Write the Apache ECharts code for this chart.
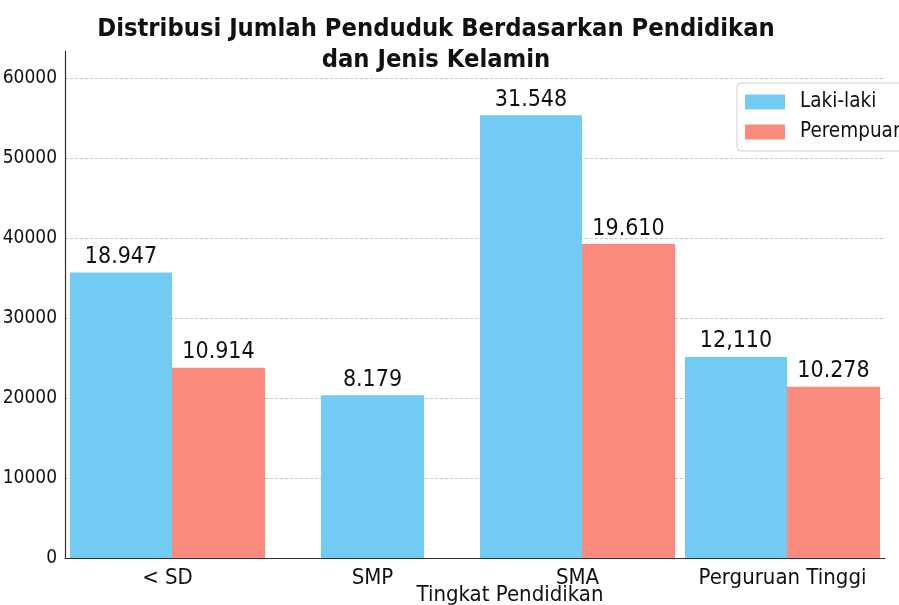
<!DOCTYPE html>
<html>
<head>
<meta charset="utf-8">
<title>Distribusi Jumlah Penduduk</title>
<script src="https://cdn.jsdelivr.net/npm/echarts@6/dist/echarts.min.js"></script>
<style>
	html, body { margin: 0; padding: 0; background: #fff; overflow: hidden; }
	#chart { position: absolute; left: 0; top: 0; width: 915px; height: 605px; }
</style>
</head>
<body>
<div id="chart"></div>
<script>
	// kategori dan nilai (dibaca dari skala sumbu gambar)
	var categories = ['< SD', 'SMP', 'SMA', 'Perguruan Tinggi'];
	var lakiValues = [35700, 20350, 55350, 25150];
	var perempuanValues = [23800, null, 39250, 21400];
	// angka yang tertulis di atas batang
	var lakiLabels = ['18.947', '8.179', '31.548', '12,110'];
	var perempuanLabels = ['10.914', '', '19.610', '10.278'];
	var yTicks = [0, 10000, 20000, 30000, 40000, 50000, 60000];

	var font = "'DejaVu Sans Condensed', 'DejaVu Sans', sans-serif";

	// SMP hanya punya satu batang -> taruh di sumbu x kedua supaya di tengah
	var lakiPaired = lakiValues.map(function (v, i) { return perempuanValues[i] == null ? null : v; });
	var lakiSingle = lakiValues.map(function (v, i) { return perempuanValues[i] == null ? v : null; });

	function drawBar(id) {
		var myChart = echarts.init(document.getElementById(id));

		var barLabel = function (texts) {
			return {
				show: true,
				position: 'top',
				distance: 4,
				color: '#111',
				fontFamily: font,
				fontSize: 23,
				formatter: function (p) { return texts[p.dataIndex]; }
			};
		};

		var option = {
			animation: false,
			title: {
				text: 'Distribusi Jumlah Penduduk Berdasarkan Pendidikan\ndan Jenis Kelamin',
				left: 431,
				top: 9,
				textAlign: 'center',
				textStyle: {
					color: '#111',
					fontFamily: font,
					fontWeight: 'bold',
					fontSize: 25.3,
					lineHeight: 31
				}
			},
			legend: {
				data: ['Laki-laki', 'Perempuan'],
				orient: 'vertical',
				left: 737,
				top: 83,
				padding: [8, 12, 8, 8],
				itemWidth: 40,
				itemHeight: 15,
				itemGap: 8,
				icon: 'rect',
				borderColor: '#cccccc',
				borderWidth: 1,
				borderRadius: 4,
				backgroundColor: 'rgba(255,255,255,0.85)',
				textStyle: {
					color: '#111',
					fontFamily: font,
					fontSize: 20.5,
					lineHeight: 22,
					padding: [0, 0, 0, 10]
				}
			},
			grid: {
				left: 65,
				top: 51,
				bottom: 47,
				width: 820,
				outerBoundsMode: 'none'
			},
			xAxis: [{
				type: 'category',
				data: categories,
				name: 'Tingkat Pendidikan',
				nameLocation: 'middle',
				nameGap: 26,
				nameMoveOverlap: false,
				nameTextStyle: {
					color: '#111',
					fontFamily: font,
					fontSize: 22,
					padding: [0, 0, 0, 70]
				},
				axisLine: { lineStyle: { color: '#333', width: 1.2 } },
				axisTick: { show: false },
				axisLabel: {
					interval: 0,
					margin: 9,
					color: '#111',
					fontFamily: font,
					fontSize: 22
				}
			}, {
				type: 'category',
				data: categories,
				show: false
			}],
			yAxis: {
				type: 'value',
				min: 0,
				max: 63400,
				interval: 10000,
				axisLine: { show: true, lineStyle: { color: '#333', width: 1.2 } },
				axisTick: { show: false },
				axisLabel: {
					margin: 8,
					color: '#111',
					fontFamily: font,
					fontSize: 19,
					showMaxLabel: false,
					formatter: function (v) { return yTicks.indexOf(v) >= 0 ? String(v) : ''; }
				},
				splitLine: {
					show: true,
					showMaxLine: false,
					lineStyle: { color: '#c4c4c4', type: [3, 2], width: 1 }
				}
			},
			series: [{
				name: 'Laki-laki',
				type: 'bar',
				xAxisIndex: 0,
				barWidth: 102,
				barGap: '0%',
				itemStyle: { color: '#72cbf3' },
				label: barLabel(lakiLabels),
				data: lakiPaired
			}, {
				name: 'Perempuan',
				type: 'bar',
				xAxisIndex: 0,
				barWidth: 93,
				barGap: '0%',
				itemStyle: { color: '#fa8a7e' },
				label: barLabel(perempuanLabels),
				data: perempuanValues
			}, {
				name: 'Laki-laki',
				type: 'bar',
				xAxisIndex: 1,
				barWidth: 103,
				itemStyle: { color: '#72cbf3' },
				label: barLabel(lakiLabels),
				data: lakiSingle
			}]
		};
		myChart.setOption(option);
	}

	drawBar('chart');
</script>
</body>
</html>
